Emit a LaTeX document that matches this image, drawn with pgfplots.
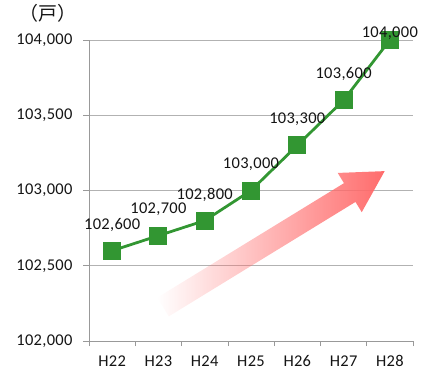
\documentclass[border=0pt]{standalone}
\usepackage{pgfplots}
\pgfplotsset{compat=1.18}
\usepackage{fontspec}
\setmainfont{Carlito}[LetterSpace=2]
\newfontfamily\cjk{Noto Sans CJK JP}
\usetikzlibrary{fadings}
\definecolor{lg}{RGB}{50,150,50}
\definecolor{txt}{RGB}{20,20,20}
\begin{document}
\begin{tikzpicture}
\begin{axis}[
  scale only axis, width=324bp, height=301bp,
  xmin=-0.5, xmax=6.5, ymin=102000, ymax=104000,
  xtick={0,...,6}, xticklabels={H22,H23,H24,H25,H26,H27,H28},
  minor xtick={-0.5,0.5,...,6.5},
  ytick={102000,102500,...,104000},
  scaled y ticks=false,
  yticklabel style={/pgf/number format/fixed, /pgf/number format/1000 sep={,}, xshift=-7bp},
  tick align=outside, major tick length=6bp, minor tick length=5bp,
  major x tick style={draw=none},
  every tick/.style={draw=gray!80, line width=0.6pt},
  axis x line*=bottom, axis y line*=left,
  axis line style={gray!80, line width=0.6pt},
  ymajorgrids, grid style={gray!60, line width=0.6pt},
  font=\fontsize{16.5}{19}\selectfont, 
  /pgf/number format/assume math mode=true,
  ticklabel style={text=txt},
  xticklabel style={yshift=-5bp},
  clip=false,
]
\coordinate (SW) at (rel axis cs:0,0);
\coordinate (NE) at (rel axis cs:1,1);
\coordinate (T) at (axis cs:1.1,102226);
\addplot[lg, line width=2.8pt, mark=square*, mark size=8.5bp, mark options={fill=lg, draw=lg, line width=0pt},
  nodes near coords, point meta=explicit symbolic,
  every node near coord/.style={text=txt, anchor=center, yshift=26bp, font=\fontsize{16.5}{19}\selectfont}]
  coordinates {(0,102600)[102,600] (1,102700)[102,700] (2,102800)[102,800] (3,103000)[103,000] (4,103300)[103,300] (5,103600)[103,600] (6,104000)[]};
\addplot[draw=none, mark=none, nodes near coords, point meta=explicit symbolic,
  every node near coord/.style={text=txt, anchor=center, yshift=7bp, font=\fontsize{16.5}{19}\selectfont}]
  coordinates {(6,104000)[104,000]};
\node[text=txt, font={\cjk\fontsize{19}{22}\selectfont}] at ([xshift=-41bp,yshift=27bp]rel axis cs:0,1) {（戸）};
\end{axis}
\begin{scope}[shift={(T)}, rotate=31.5]
\fill[red!58, path fading=west] (0,-11bp) -- (219bp,-11bp) -- (219bp,-23bp) -- (260bp,0) -- (219bp,23bp) -- (219bp,11bp) -- (0,11bp) -- cycle;
\end{scope}
\path[use as bounding box] ([xshift=-89bp,yshift=-31bp]SW) rectangle ([xshift=12bp,yshift=40bp]NE);
\end{tikzpicture}
\end{document}
